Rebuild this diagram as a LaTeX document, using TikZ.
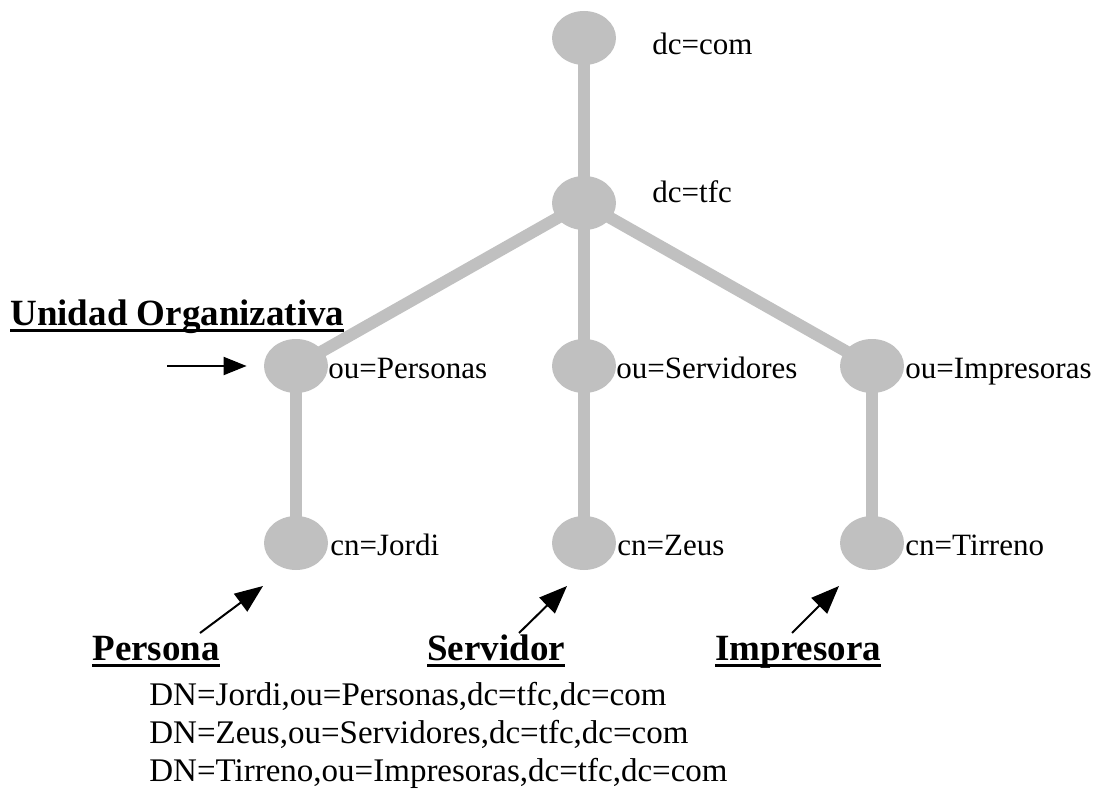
\documentclass[tikz,border=0pt]{standalone}
\usepackage{fontspec}
\setmainfont{Liberation Serif}
\usepackage{xcolor}
\usetikzlibrary{arrows.meta,shapes.geometric}
\definecolor{tgrey}{HTML}{C0C0C0}
\definecolor{tink}{HTML}{000000}
\newcommand{\ulbold}[1]{\setbox0=\hbox{\bfseries #1}\dp0=0pt\vtop{\copy0\kern2.2pt\hrule height 1.5pt}}

\begin{document}
\begin{tikzpicture}[x=0.5pt,y=-0.5pt,
  entry/.style={ellipse,fill=tgrey,minimum width=32pt,minimum height=27pt,inner sep=0pt},
  branch/.style={tgrey,line width=6pt},
  rdn/.style={anchor=base west,inner sep=0pt,font=\fontsize{15.5}{18}\selectfont},
  dnline/.style={anchor=base west,inner sep=0pt,font=\fontsize{16.5}{19}\selectfont},
  kind/.style={anchor=base west,inner sep=0pt,font=\fontsize{18.5}{22}\selectfont},
  ptr/.style={-{Triangle[length=14pt,width=11pt]},line width=1pt,tink}]
  \useasboundingbox (0,0) rectangle (1101,796);

  % entries of the tree
  \node[entry] (com) at (584,38) {};
  \node[entry] (tfc) at (584,203) {};
  \node[entry] (pers) at (296,366) {};
  \node[entry] (serv) at (584,366) {};
  \node[entry] (impr) at (872,366) {};
  \node[entry] (jordi) at (296,543) {};
  \node[entry] (zeus) at (584,543) {};
  \node[entry] (tirreno) at (872,543) {};

  \draw[branch] (com.center) -- (tfc.center);
  \foreach \ou/\cn in {pers/jordi,serv/zeus,impr/tirreno} {
    \draw[branch] (tfc.center) -- (\ou.center);
    \draw[branch] (\ou.center) -- (\cn.center);
  }

  % rdn labels
  \node[rdn] (lcom) at (652,55) {dc=com};
  \node[rdn] (ltfc) at (652,203) {dc=tfc};
  \node[rdn] (lpers) at (328,378) {ou=Personas};
  \node[rdn] (lserv) at (616,378) {ou=Servidores};
  \node[rdn] (limpr) at (905,378) {ou=Impresoras};
  \node[rdn] (ljordi) at (330,555) {cn=Jordi};
  \node[rdn] (lzeus) at (617,555) {cn=Zeus};
  \node[rdn] (ltirreno) at (905,555) {cn=Tirreno};

  % object classes
  \node[kind] (unidad) at (10,325) {\ulbold{Unidad Organizativa}};
  \node[kind] (persona) at (92,660) {\ulbold{Persona}};
  \node[kind] (servidor) at (427,660) {\ulbold{Servidor}};
  \node[kind] (impresora) at (715,660) {\ulbold{Impresora}};

  \coordinate (tunidad) at (167,366);
  \draw[ptr,-{Triangle[length=11.5pt,width=9pt]}] (tunidad) -- (pers.west) [shorten >=8.5pt];
  \coordinate (tpersona) at (200,633);
  \coordinate (hpersona) at (263,586);
  \draw[ptr] (tpersona) -- (hpersona);
  \coordinate (tservidor) at (519,633);
  \coordinate (hservidor) at (567,586);
  \draw[ptr] (tservidor) -- (hservidor);
  \coordinate (timpresora) at (792,633);
  \coordinate (himpresora) at (839,586);
  \draw[ptr] (timpresora) -- (himpresora);

  % distinguished names
  \node[dnline] (dnjordi) at (149,705) {DN=Jordi,ou=Personas,dc=tfc,dc=com};
  \node[dnline] (dnzeus) at (149,743) {DN=Zeus,ou=Servidores,dc=tfc,dc=com};
  \node[dnline] (dntirreno) at (149,781) {DN=Tirreno,ou=Impresoras,dc=tfc,dc=com};
\end{tikzpicture}
\end{document}
